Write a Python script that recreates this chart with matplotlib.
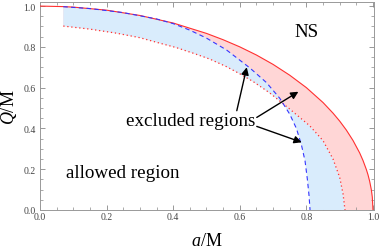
import numpy as np
import matplotlib
matplotlib.use("Agg")
import matplotlib.pyplot as plt
from matplotlib.ticker import MultipleLocator

# extremal Kerr-Newman boundary a^2 + Q^2 = M^2 (red solid)
kn_a = [0.0, 0.07, 0.1, 0.2, 0.3, 0.4, 0.5, 0.55, 0.6, 0.65, 0.7, 0.75, 0.8, 0.85, 0.88,
        0.9, 0.92, 0.94, 0.96, 0.97, 0.98, 0.985, 0.99, 0.995, 0.998, 1.0]
kn_q = [1.0, 0.9975, 0.995, 0.980, 0.954, 0.917, 0.866, 0.835, 0.800, 0.760, 0.714, 0.661,
        0.600, 0.527, 0.475, 0.436, 0.392, 0.341, 0.280, 0.243, 0.199, 0.173, 0.141,
        0.100, 0.063, 0.0]

# red dotted curve
dot_a = [0.07, 0.15, 0.23, 0.30, 0.36, 0.41, 0.46, 0.51, 0.56, 0.60, 0.64, 0.69, 0.75,
         0.81, 0.85, 0.88, 0.900, 0.910, 0.916]
dot_q = [0.902, 0.887, 0.867, 0.845, 0.818, 0.796, 0.769, 0.740, 0.703, 0.668, 0.630, 0.574,
         0.495, 0.413, 0.340, 0.250, 0.160, 0.080, 0.0]

# blue dashed curve
dsh_a = [0.07, 0.15, 0.25, 0.35, 0.40, 0.45, 0.50, 0.56, 0.63, 0.68, 0.72, 0.75, 0.77,
         0.785, 0.796, 0.803, 0.808, 0.811]
dsh_q = [0.997, 0.988, 0.968, 0.937, 0.914, 0.882, 0.843, 0.785, 0.697, 0.625, 0.548, 0.470,
         0.400, 0.320, 0.240, 0.150, 0.070, 0.0]

plt.rcParams["font.family"] = ["Liberation Serif", "DejaVu Serif"]
plt.rcParams["mathtext.fontset"] = "custom"
plt.rcParams["mathtext.rm"] = "Liberation Serif"
plt.rcParams["mathtext.it"] = "Liberation Serif:italic"

fig = plt.figure(figsize=(3.82, 2.51), dpi=100)
ax = fig.add_axes([0.1047, 0.1594, 0.8743, 0.8286])

# pink: between the KN boundary and the dotted curve
kn_a_arr, kn_q_arr = np.array(kn_a), np.array(kn_q)
sel = kn_a_arr >= 0.07
pink_x = np.concatenate([kn_a_arr[sel], dot_a[::-1]])
pink_y = np.concatenate([kn_q_arr[sel], dot_q[::-1]])
ax.fill(pink_x, pink_y, color="#ffd6d6", lw=0, zorder=1)

# blue: between dotted and dashed
blue_x = np.concatenate([dot_a, dsh_a[::-1]])
blue_y = np.concatenate([dot_q, dsh_q[::-1]])
ax.fill(blue_x, blue_y, color="#d9ecfc", lw=0, zorder=2)

ax.plot(kn_a, kn_q, color="#ff3030", lw=0.8, zorder=4)
ax.plot(dot_a, dot_q, color="#ff3030", lw=0.9, ls=(0, (1, 2.2)), zorder=4)
ax.plot(dsh_a, dsh_q, color="#3535ff", lw=0.8, ls=(0, (4, 3)), zorder=5)

ax.set_xlim(0, 1.003)
ax.set_ylim(0, 1.02)

txt = dict(fontsize=13.7, color="k")
ax.text(0.80, 0.851, "NS", ha="center", va="baseline", **txt)
ax.text(0.248, 0.16, "allowed region", ha="center", va="baseline", **txt)
ax.text(0.452, 0.417, "excluded regions", ha="center", va="baseline", **txt)

arrow = dict(arrowstyle="-|>", color="k", lw=1.0, mutation_scale=11,
             shrinkA=0, shrinkB=0)
ax.annotate("", xy=(0.621, 0.70), xytext=(0.591, 0.487), arrowprops=arrow, zorder=6)
ax.annotate("", xy=(0.776, 0.58), xytext=(0.651, 0.454), arrowprops=arrow, zorder=6)
ax.annotate("", xy=(0.786, 0.332), xytext=(0.651, 0.41), arrowprops=arrow, zorder=6)

ax.set_xlabel(r"$\mathit{a}$/M", fontsize=13, labelpad=8)
ax.set_ylabel(r"$\mathit{Q}$/M", fontsize=13, labelpad=3)

ax.xaxis.set_major_locator(MultipleLocator(0.2))
ax.xaxis.set_minor_locator(MultipleLocator(0.05))
ax.yaxis.set_major_locator(MultipleLocator(0.2))
ax.yaxis.set_minor_locator(MultipleLocator(0.05))
ax.xaxis.set_major_formatter(lambda v, p: f"{v:.1f}")
ax.yaxis.set_major_formatter(lambda v, p: f"{v:.1f}")
ax.tick_params(which="both", direction="in", top=True, right=True, color="#888888",
               labelsize=7, labelcolor="#444444")
ax.tick_params(which="major", length=3.6, width=0.6)
ax.tick_params(which="minor", length=2.0, width=0.5)
ax.tick_params(axis="x", pad=1.5)
ax.tick_params(axis="y", pad=3)
for s in ax.spines.values():
    s.set_color("#999999")
    s.set_linewidth(0.7)

fig.savefig("out.png", dpi=100)
